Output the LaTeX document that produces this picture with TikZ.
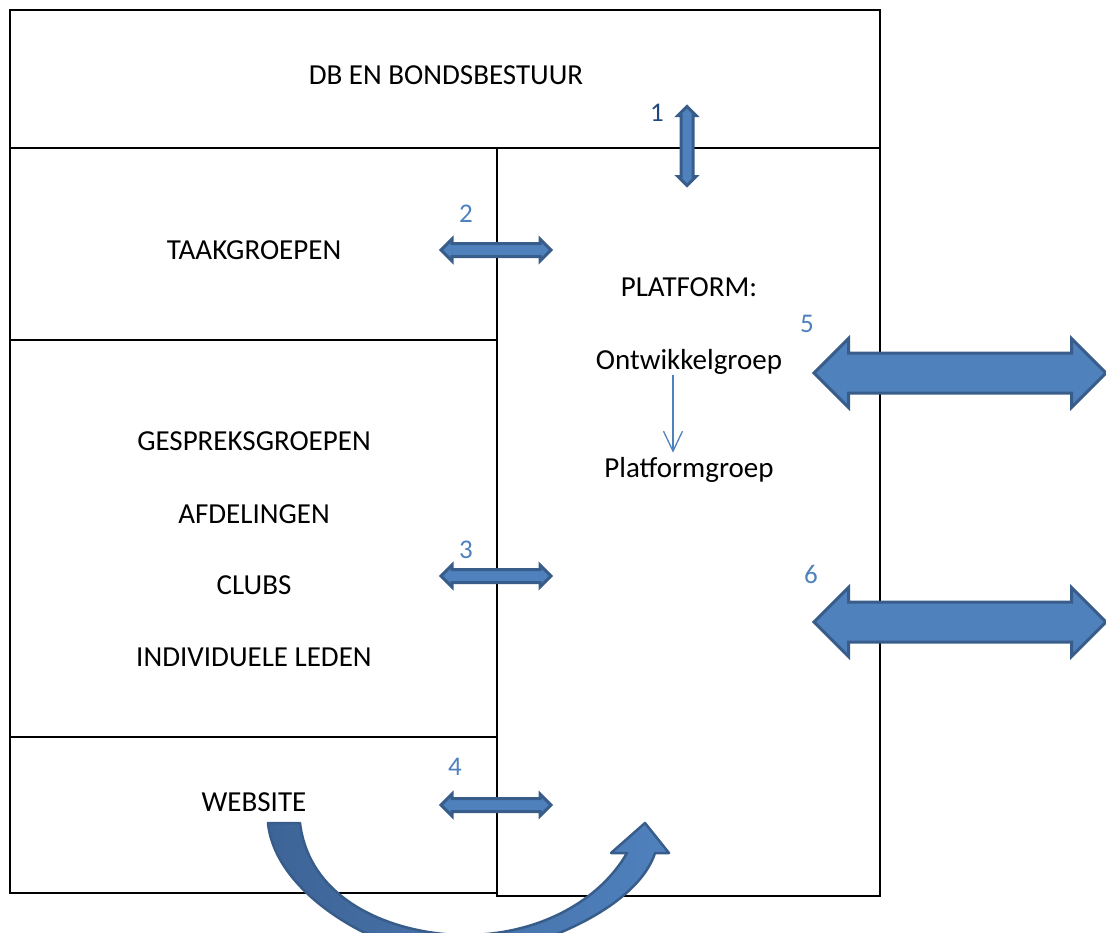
\documentclass[tikz,border=0pt]{standalone}
\usepackage{fontspec}
\setmainfont{Carlito}
\usepackage{tikz}
\usetikzlibrary{arrows.meta,positioning,shapes.arrows}
\definecolor{officeblue}{HTML}{4F81BD}
\definecolor{officeedge}{HTML}{385D8A}
\definecolor{officedark}{HTML}{1F497D}
\definecolor{curvdark}{HTML}{3E6497}
\tikzset{
  frame/.style={draw=black, line width=1.3pt},
  lbl/.style={font=\fontsize{29}{34}\selectfont, inner sep=0pt, anchor=base},
  num/.style={font=\fontsize{27}{32}\selectfont, text=officeblue, inner sep=0pt, anchor=base},
  linkarr/.style={double arrow, draw=officeedge, fill=officeblue, line width=3pt, inner xsep=0pt, inner ysep=5pt, double arrow head extend=4.5pt, minimum height=110pt},
  bigarr/.style={double arrow, draw=officeedge, fill=officeblue, line width=3pt, inner xsep=0pt, inner ysep=18.5pt, double arrow head extend=14.5pt, minimum height=292pt},
  flow/.style={-{Straight Barb[length=20pt,width=19pt,line width=1.3pt]}, draw=officeblue, line width=1.3pt},
}
\begin{document}
\begin{tikzpicture}[x=1pt,y=-1pt]
    \clip (0,0) rectangle (1106,932);
    % vakken
    \draw[frame] (10,10) rectangle (880,148);
    \draw[frame] (10,148) rectangle (497,340);
    \draw[frame] (10,340) rectangle (497,737);
    \draw[frame] (10,737) rectangle (497,893);
    \draw[frame] (497,148) rectangle (880,896);
    % teksten
    \node[lbl] (db) at (446,84) {DB EN BONDSBESTUUR};
    \node[lbl] (taak) at (254,259) {TAAKGROEPEN};
    \node[lbl] (gesprek) at (254,450) {GESPREKSGROEPEN};
    \node[lbl] (afd) at (254,523) {AFDELINGEN};
    \node[lbl] (clubs) at (254,594) {CLUBS};
    \node[lbl] (leden) at (254,666) {INDIVIDUELE LEDEN};
    \node[lbl] (web) at (254,811) {WEBSITE};
    \node[lbl] (platform) at (689,296) {PLATFORM:};
    \node[lbl] (ontw) at (689,369) {Ontwikkelgroep};
    \node[lbl] (platgr) at (689,477) {Platformgroep};
    \draw[flow] ([xshift=-16pt,yshift=-6pt]ontw.base) -- ([xshift=-16pt,yshift=4pt]platgr.north);
    % pijlen met nummers
    \node[linkarr, rotate=90, minimum height=79pt, inner ysep=4.5pt, double arrow head extend=3pt] (p1) at (687,146) {};
    \node[num, text=officedark] (n1) at (657,121) {1};
    \node[linkarr] (p2) at (496,250) {};
    \node[num] (n2) at (466,222) {2};
    \node[linkarr] (p3) at (496,576) {};
    \node[num] (n3) at (466,558) {3};
    \node[linkarr] (p4) at (496,805) {};
    \node[num] (n4) at (455,775) {4};
    \node[bigarr] (p5) at (960,373) {};
    \node[num] (n5) at (807,332) {5};
    \node[bigarr] (p6) at (960,622) {};
    \node[num] (n6) at (811,583) {6};
    % gebogen pijl website -> platform
    \draw[left color=curvdark, right color=officeblue, draw=officeedge, line width=2.5pt, line join=round]
      (268,823) -- (300,823) .. controls (310,905) and (400,935) .. (465,935)
      .. controls (540,935) and (600,900) .. (627,853) -- (611,853) -- (645,823)
      -- (669,853) -- (655,853) .. controls (640,900) and (560,945) .. (460,960)
      .. controls (380,955) and (275,895) .. (268,823) -- cycle;
\end{tikzpicture}
\end{document}
